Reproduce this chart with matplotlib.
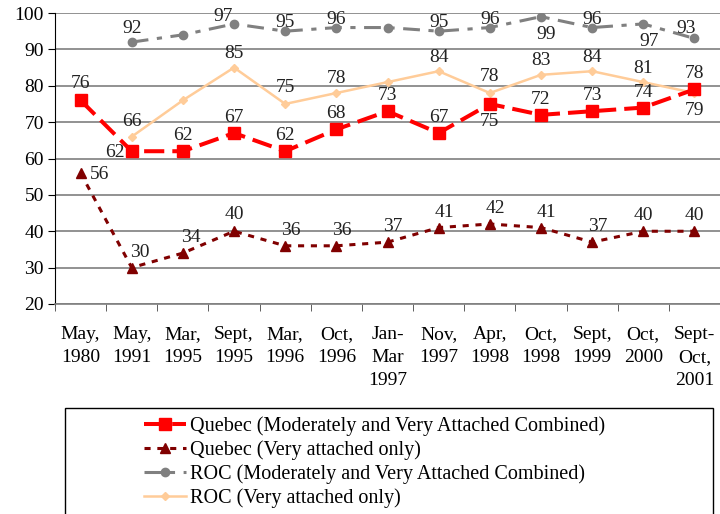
import matplotlib
matplotlib.use("Agg")
import matplotlib.pyplot as plt
from matplotlib.patches import Rectangle
import numpy as np

categories = ["May,\n1980", "May,\n1991", "Mar,\n1995", "Sept,\n1995", "Mar,\n1996",
              "Oct,\n1996", "Jan-\nMar\n1997", "Nov,\n1997", "Apr,\n1998", "Oct,\n1998",
              "Sept,\n1999", "Oct,\n2000", "Sept-\nOct,\n2001"]
quebec_combined = [76, 62, 62, 67, 62, 68, 73, 67, 75, 72, 73, 74, 79]
quebec_very = [56, 30, 34, 40, 36, 36, 37, 41, 42, 41, 37, 40, 40]
roc_combined = [None, 92, 94, 97, 95, 96, 96, 95, 96, 99, 96, 97, 93]
roc_very = [None, 66, 76, 85, 75, 78, 81, 84, 78, 83, 84, 81, 78]

# label visibility / placement (offsets in points)
qc_off = [(0, 6), (-12, -7), (0, 5), (0, 5), (0, 5), (0, 5), (0, 5), (0, 5), (0, -19), (0, 5), (0, 5), (0, 5), (0, -21)]
qv_off = [(14, -7), (6, 5), (6, 5), (0, 6), (4, 5), (4, 5), (4, 5), (4, 5), (4, 5), (4, 5), (4, 5), (0, 5), (0, 5)]
rc_off = [None, (0, 4), None, (-8, -1), (0, 0), (0, 0), None, (0, 0), (0, 0), (4, -19), (0, 0), (4, -19), (-6, 1)]
rv_off = [None, (0, 5), None, (0, 4), (0, 6), (0, 4), None, (0, 4), (0, 6), (0, 4), (0, 4), (0, 4), (0, 8)]

plt.rcParams['font.family'] = ['Liberation Serif', 'DejaVu Serif']

fig = plt.figure(figsize=(7.2, 5.14), dpi=100)
ax = fig.add_axes([55/720, 1-304/514, 665/720, 291/514])

x = np.arange(len(categories))

def arr(v):
    return np.array([np.nan if a is None else a for a in v], dtype=float)

l1, = ax.plot(x, arr(quebec_combined), color='#FF0000', lw=2.9, marker='s', ms=8.5,
              dashes=(5, 2), label='Quebec (Moderately and Very Attached Combined)', zorder=5)
l2, = ax.plot(x, arr(quebec_very), color='#800000', lw=2.2, marker='^', ms=7.5,
              dashes=(2, 2.2), label='Quebec (Very attached only)', zorder=4)
l3, = ax.plot(x, arr(roc_combined), color='#808080', lw=2.2, marker='o', ms=6,
              dashes=(5.5, 2.8, 1.7, 2.8), label='ROC (Moderately and Very Attached Combined)', zorder=3)
l4, = ax.plot(x, arr(roc_very), color='#FFCC99', lw=1.8, marker='D', ms=4.5,
              label='ROC (Very attached only)', zorder=2)

def annotate(vals, offs):
    for i, (v, o) in enumerate(zip(vals, offs)):
        if v is None or o is None:
            continue
        ax.annotate(str(v), (x[i], v), xytext=o, textcoords='offset points',
                    ha='center', va='bottom', fontsize=14, color='#222222', zorder=6)

annotate(quebec_combined, qc_off)
annotate(quebec_very, qv_off)
annotate(roc_combined, rc_off)
annotate(roc_very, rv_off)

ax.set_xlim(-0.5, len(categories) - 0.5)
ax.set_ylim(20, 100)
ax.set_yticks(np.arange(20, 101, 10))
ax.yaxis.grid(True, color='#7f7f7f', lw=1.2)
ax.set_axisbelow(True)
ax.set_xticks(x)
ax.set_xticklabels(categories, fontsize=14, linespacing=1.45, va='top')
ax.set_xticks(np.arange(-0.5, len(categories), 1), minor=True)
ax.tick_params(axis='x', which='major', length=0, pad=16)
ax.tick_params(axis='x', which='minor', length=5, direction='out', color='#444444')
ax.tick_params(axis='y', labelsize=14, length=5, direction='out', pad=3)
for s in ['top', 'right']:
    ax.spines[s].set_visible(False)
ax.spines['bottom'].set_color('#7f7f7f')
ax.spines['bottom'].set_linewidth(1.2)
ax.spines['left'].set_color('black')

# legend box
fig.patches.append(Rectangle((65/720, -0.05), 648/720, 0.05 + 1 - 408/514,
                             transform=fig.transFigure, fill=False, edgecolor='black', lw=1))
fig.legend(handles=[l1, l2, l3, l4], loc='upper left', bbox_to_anchor=(128/720, 1 - 400/514),
           frameon=False, fontsize=14.5, handlelength=2.1, handletextpad=0.2,
           labelspacing=0.22, borderpad=0.3)

fig.savefig('out.png', dpi=100)
